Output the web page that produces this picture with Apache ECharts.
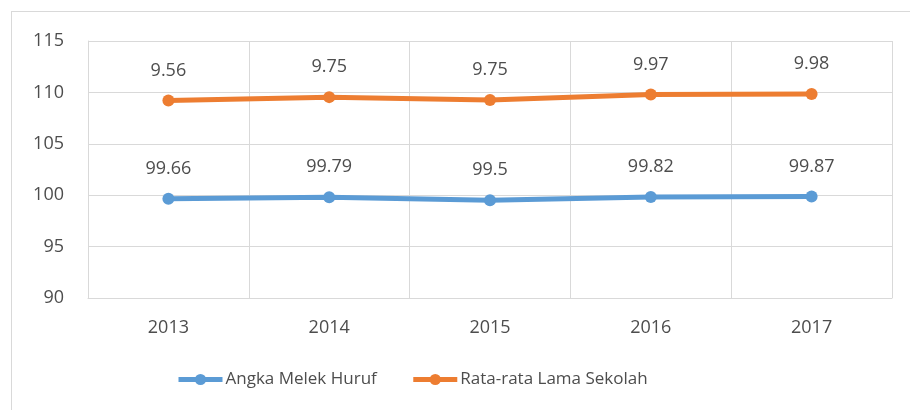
<!DOCTYPE html>
<html>
<head>
<meta charset="utf-8">
<script src="https://cdn.jsdelivr.net/npm/echarts@6/dist/echarts.min.js"></script>
<style>
  html, body { margin: 0; padding: 0; background: #fff; }
  #frame { position: absolute; left: 11px; top: 11px; width: 905px; height: 410px; border: 1px solid #d9d9d9; box-sizing: border-box; }
  #chart { position: absolute; left: 0; top: 0; width: 910px; height: 410px; }
</style>
</head>
<body>
<div id="frame"></div>
<div id="chart"></div>
<script>
// years on the x axis
const years = ['2013', '2014', '2015', '2016', '2017'];
// literacy rate
const angkaMelekHuruf = [99.66, 99.79, 99.5, 99.82, 99.87];
// mean years of schooling (stacked on top of the first series, like the Excel original)
const rataLamaSekolah = [9.56, 9.75, 9.75, 9.97, 9.98];

const textColor = '#4d4d4d';
const fontFamily = '"Open Sans", "Noto Sans", sans-serif';

let myChart = echarts.init(document.getElementById('chart'));

const makeSeries = (name, data, color) => ({
    name: name,
    type: 'line',
    stack: 'total',
    data: data,
    symbol: 'circle',
    symbolSize: 12,
    lineStyle: { width: 5, color: color },
    itemStyle: { color: color },
    label: {
        show: true,
        position: 'top',
        distance: 15,
        color: textColor,
        fontSize: 18,
        fontFamily: fontFamily
    }
});

myChart.setOption({
    animation: false,
    grid: { left: 88, right: 18, top: 41, bottom: 112 },
    legend: {
        bottom: 17,
        left: 171,
        itemWidth: 44,
        itemHeight: 14,
        itemGap: 34,
        lineStyle: { width: 5 },
        textStyle: { color: textColor, fontSize: 17, fontFamily: fontFamily, padding: [0, 0, 0, -2] },
        data: ['Angka Melek Huruf', 'Rata-rata Lama Sekolah']
    },
    xAxis: {
        type: 'category',
        data: years,
        boundaryGap: true,
        axisLine: { show: true, lineStyle: { color: '#d9d9d9', width: 1 } },
        axisTick: { show: false },
        splitLine: { show: true, interval: 0, lineStyle: { color: '#d9d9d9', width: 1 } },
        axisLabel: { color: textColor, fontSize: 18, fontFamily: fontFamily, margin: 21 }
    },
    yAxis: {
        type: 'value',
        min: 90,
        max: 115,
        interval: 5,
        axisLine: { show: true, lineStyle: { color: '#d9d9d9', width: 1 } },
        axisTick: { show: false },
        splitLine: { show: true, lineStyle: { color: '#d9d9d9', width: 1 } },
        axisLabel: { color: textColor, fontSize: 18, fontFamily: fontFamily, margin: 24 }
    },
    series: [
        makeSeries('Angka Melek Huruf', angkaMelekHuruf, '#5B9BD5'),
        makeSeries('Rata-rata Lama Sekolah', rataLamaSekolah, '#ED7D31')
    ]
});
</script>
</body>
</html>
